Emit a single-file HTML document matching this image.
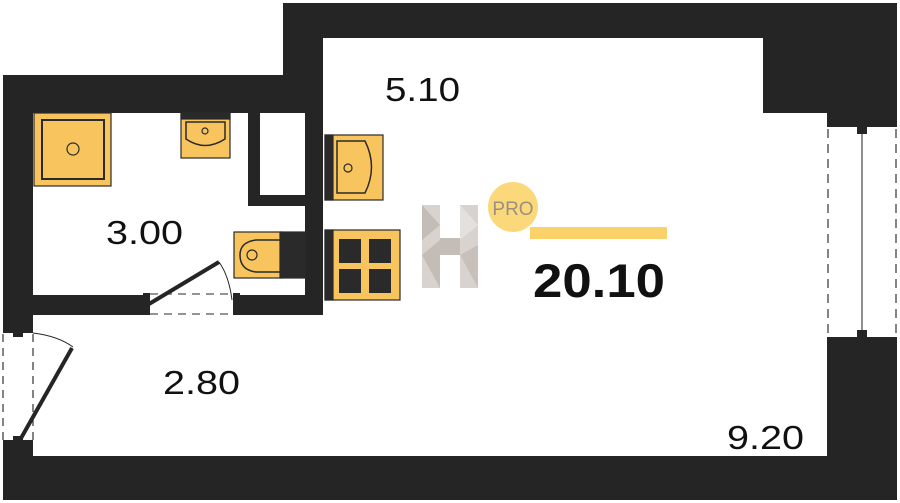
<!DOCTYPE html>
<html><head><meta charset="utf-8"><style>
html,body{margin:0;padding:0;background:#fff;}
svg{display:block}
text{font-family:"Liberation Sans",sans-serif;}
</style></head><body>
<svg width="900" height="503" viewBox="0 0 900 503" xmlns="http://www.w3.org/2000/svg">
<rect width="900" height="503" fill="#fff"/>
<g fill="#252525">
<rect x="283" y="3" width="614" height="35"/>
<rect x="283" y="3" width="40" height="110"/>
<rect x="763" y="3" width="134" height="110"/>
<rect x="827" y="3" width="70" height="115"/>
<rect x="3" y="75" width="320" height="38"/>
<rect x="3" y="75" width="30" height="250"/>
<rect x="305" y="75" width="18" height="240"/>
<rect x="248" y="113" width="12" height="93"/>
<rect x="248" y="195" width="57" height="11"/>
<rect x="33" y="295" width="114" height="20"/>
<rect x="236" y="295" width="87" height="20"/>
<rect x="827" y="346" width="70" height="154"/>
<rect x="3" y="456" width="894" height="44"/>
<rect x="3" y="447" width="30" height="53"/>
<rect x="3" y="325" width="30" height="8"/>
<rect x="3" y="440" width="30" height="8"/>
<rect x="13" y="333" width="10" height="4"/>
<rect x="13" y="436" width="10" height="4"/>
<rect x="827" y="118" width="70" height="9"/>
<rect x="827" y="337" width="70" height="9"/>
<rect x="857" y="127" width="10" height="7"/>
<rect x="857" y="330" width="10" height="7"/>
<rect x="143" y="293" width="7" height="22"/>
<rect x="233" y="293" width="7" height="22"/>
</g>
<g stroke="#333" stroke-width="1.2" fill="none" stroke-dasharray="9,6">
<line x1="828" y1="129" x2="828" y2="336"/>
<line x1="896" y1="129" x2="896" y2="336"/>
</g>
<line x1="862" y1="134" x2="862" y2="330" stroke="#444" stroke-width="1.2"/>
<g stroke="#333" stroke-width="1.2" fill="none" stroke-dasharray="8,6">
<line x1="3" y1="334" x2="3" y2="440"/>
<line x1="33" y1="334" x2="33" y2="440"/>
</g>
<line x1="20" y1="440" x2="72" y2="348" stroke="#252525" stroke-width="4"/>
<path d="M33 333 Q58 336 73 347" stroke="#252525" stroke-width="1" fill="none"/>
<g stroke="#555" stroke-width="1.2" fill="none" stroke-dasharray="8,6">
<line x1="150" y1="294" x2="233" y2="294"/>
<line x1="150" y1="314" x2="233" y2="314"/>
</g>
<line x1="149" y1="304" x2="219" y2="262" stroke="#252525" stroke-width="4"/>
<path d="M219 262 Q229 276 232 300" stroke="#252525" stroke-width="1" fill="none"/>
<g stroke="#2a2a2a" stroke-width="1.2">
<rect x="34" y="113" width="77" height="73" fill="#f8c45e"/>
<rect x="42" y="120" width="62" height="59" fill="none" stroke-width="2"/>
<circle cx="73" cy="149" r="6" fill="none"/>
<rect x="181" y="113" width="49" height="45" fill="#f8c45e"/>
<rect x="181" y="113" width="49" height="6" fill="#2a2a2a"/>
<path d="M186 122 H225 V139 Q205 152 186 139 Z" fill="none" stroke-width="1.5"/>
<circle cx="205" cy="131" r="3" fill="none"/>
<rect x="325" y="135" width="58" height="65" fill="#f8c45e"/>
<rect x="325" y="135" width="8" height="65" fill="#2a2a2a"/>
<path d="M337 141 H365 Q378 167 365 193 H337 Z" fill="none" stroke-width="1.5"/>
<circle cx="348" cy="168" r="4" fill="none"/>
<rect x="234" y="232" width="48" height="46" fill="#f8c45e"/>
<path d="M280 240 H256 Q240 242 240 255 Q240 270 256 272 H280" fill="none" stroke-width="1.5"/>
<circle cx="252" cy="255" r="5" fill="none"/>
<rect x="280" y="232" width="25" height="46" fill="#2a2a2a"/>
<rect x="325" y="230" width="75" height="70" fill="#f8c45e"/>
<rect x="325" y="230" width="8" height="70" fill="#2a2a2a"/>
</g>
<g fill="#2a2a2a">
<rect x="339" y="239" width="22" height="24"/>
<rect x="369" y="239" width="22" height="24"/>
<rect x="339" y="269" width="22" height="24"/>
<rect x="369" y="269" width="22" height="24"/>
</g>
<g>
<rect x="422" y="205" width="18" height="83" fill="#d8d3cf"/>
<rect x="460" y="205" width="18" height="83" fill="#d8d3cf"/>
<rect x="440" y="238" width="20" height="17" fill="#c4bdb7"/>
<polygon points="422,205 440,225 422,240" fill="#c4bdb7"/>
<polygon points="422,255 440,240 440,288" fill="#c4bdb7"/>
<polygon points="460,205 478,225 460,240" fill="#e4e0dd"/>
<polygon points="460,255 478,245 478,288" fill="#c8c1bb"/>
</g>
<circle cx="513" cy="207" r="25" fill="#fbd97a"/>
<text x="513" y="215" font-size="19" fill="#9a8f80" text-anchor="middle">PRO</text>
<rect x="530" y="227" width="137" height="12" fill="#fbd26a"/>
<text x="533" y="297" font-size="47" font-weight="bold" fill="#111" textLength="132" lengthAdjust="spacingAndGlyphs">20.10</text>
<g font-size="33" fill="#111">
<text x="385" y="101" textLength="75" lengthAdjust="spacingAndGlyphs">5.10</text>
<text x="106" y="244" textLength="77" lengthAdjust="spacingAndGlyphs">3.00</text>
<text x="163" y="394" textLength="77" lengthAdjust="spacingAndGlyphs">2.80</text>
<text x="727" y="449" textLength="77" lengthAdjust="spacingAndGlyphs">9.20</text>
</g>
</svg>
</body></html>
